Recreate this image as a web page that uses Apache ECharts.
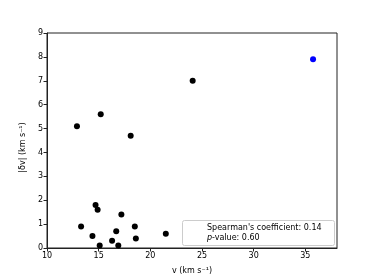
<!DOCTYPE html>
<html><head><meta charset="utf-8">
<script src="https://cdn.jsdelivr.net/npm/echarts@6/dist/echarts.min.js"></script>
<style>html,body{margin:0;padding:0;background:#fff}#c{width:374px;height:280px}</style>
</head><body><div id="c"></div>
<script>
var vBlack = [13.3, 14.7, 14.9, 14.4, 15.1, 16.3, 16.7, 16.9, 17.2, 18.5, 18.6, 21.5, 12.9, 15.2, 18.1, 24.1];
var dvBlack = [0.9, 1.8, 1.6, 0.5, 0.1, 0.3, 0.7, 0.1, 1.4, 0.9, 0.4, 0.6, 5.1, 5.6, 4.7, 7.0];
var vBlue = [35.75];
var dvBlue = [7.9];
var xTicks = [10, 15, 20, 25, 30, 35];
var yTicks = [0, 1, 2, 3, 4, 5, 6, 7, 8, 9];
var legendLines = ["Spearman's coefficient: 0.14", "-value: 0.60"];

function pairs(a, b) { return a.map(function (x, i) { return [x, b[i]]; }); }
var font = 'DejaVu Sans';
var chart = echarts.init(document.getElementById('c'), null, {renderer: 'canvas'});
chart.setOption({
  animation: false,
  backgroundColor: '#fff',
  grid: {left: 47, top: 33, right: 37, bottom: 31, show: true, borderColor: '#222', borderWidth: 1, backgroundColor: 'transparent'},
  xAxis: {
    type: 'value', min: 10, max: 38.07,
    name: 'v (km s⁻¹)', nameLocation: 'middle', nameGap: 19,
    nameTextStyle: {fontFamily: font, fontSize: 8, color: '#000'},
    axisLine: {show: true, onZero: false, lineStyle: {color: '#222', width: 1}},
    axisTick: {show: true, length: 3.5, customValues: xTicks, lineStyle: {color: '#222'}},
    axisLabel: {customValues: xTicks, fontFamily: font, fontSize: 8, color: '#000', margin: 4},
    splitLine: {show: false}
  },
  yAxis: {
    type: 'value', min: 0, max: 9, interval: 1,
    name: '|δv| (km s⁻¹)', nameLocation: 'middle', nameGap: 15, nameRotate: 90,
    nameTextStyle: {fontFamily: font, fontSize: 8, color: '#000', padding: [0, 14, 0, 0]},
    axisLine: {show: true, onZero: false, lineStyle: {color: '#222', width: 1}},
    axisTick: {show: true, length: 3.5, lineStyle: {color: '#222'}},
    axisLabel: {fontFamily: font, fontSize: 8, color: '#000', margin: 4,
      customValues: yTicks},
    splitLine: {show: false}
  },
  title: {
    text: legendLines[0] + '\n{i|p}' + legendLines[1],
    left: 182, top: 220,
    padding: [3, 13, 3, 25],
    borderColor: '#ccc', borderWidth: 1, borderRadius: 2,
    backgroundColor: '#fff',
    textStyle: {fontFamily: font, fontSize: 8, fontWeight: 'normal', color: '#000', lineHeight: 10,
      rich: {i: {fontStyle: 'italic', fontFamily: font, fontSize: 8, color: '#000'}}}
  },
  series: [
    {type: 'scatter', data: pairs(vBlack, dvBlack), symbolSize: 6, itemStyle: {color: '#000', opacity: 1}},
    {type: 'scatter', data: pairs(vBlue, dvBlue), symbolSize: 6, itemStyle: {color: '#0000ff', opacity: 1}}
  ]
});
</script></body></html>
